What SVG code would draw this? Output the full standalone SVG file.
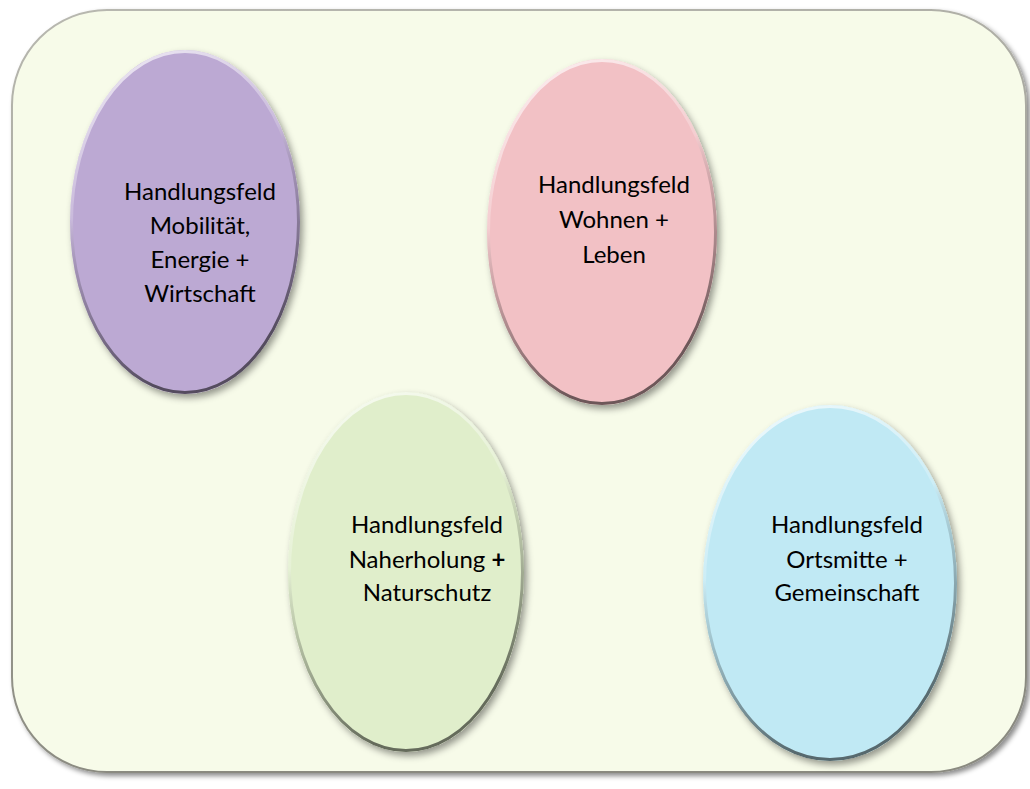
<svg xmlns="http://www.w3.org/2000/svg" width="1030" height="789" viewBox="0 0 1030 789">
  <defs>
    <filter id="shadow" x="-10%" y="-10%" width="125%" height="125%">
      <feDropShadow dx="3" dy="4" stdDeviation="3.5" flood-color="#000" flood-opacity="0.4"/>
    </filter>
    <filter id="bgshadow" x="-5%" y="-5%" width="110%" height="110%">
      <feDropShadow dx="3" dy="3" stdDeviation="2.5" flood-color="#000" flood-opacity="0.45"/>
    </filter>
    <linearGradient id="rim" x1="0" y1="0" x2="0.3" y2="1">
      <stop offset="0" stop-color="#ffffff" stop-opacity="0.8"/>
      <stop offset="0.45" stop-color="#ffffff" stop-opacity="0.2"/>
      <stop offset="0.6" stop-color="#000000" stop-opacity="0.15"/>
      <stop offset="1" stop-color="#000000" stop-opacity="0.55"/>
    </linearGradient>
    <linearGradient id="bgrim" x1="0" y1="0" x2="0.2" y2="1">
      <stop offset="0" stop-color="#b8b8b0"/>
      <stop offset="1" stop-color="#8a8a80"/>
    </linearGradient>
  </defs>
  <style>
    .lbl { font-family: Lato, "Open Sans", "Liberation Sans", sans-serif; font-size: 24px; fill: #000; text-anchor: middle; }
    .node ellipse.fill { filter: url(#shadow); }
    .node ellipse.rim { fill: none; stroke: url(#rim); stroke-width: 3; }
  </style>
  <rect x="12" y="10" width="1014" height="762" rx="95" ry="95" fill="#f7fbe9" stroke="url(#bgrim)" stroke-width="2" filter="url(#bgshadow)"/>

  <g id="node-mobilitaet" class="node">
    <ellipse class="fill" cx="185" cy="222" rx="115" ry="172" fill="#bca9d3"/>
    <ellipse class="rim" cx="185" cy="222" rx="113.5" ry="170.5"/>
    <text class="lbl" x="200" y="200">Handlungsfeld</text>
    <text class="lbl" x="200" y="234">Mobilität,</text>
    <text class="lbl" x="200" y="268">Energie +</text>
    <text class="lbl" x="200" y="302">Wirtschaft</text>
  </g>

  <g id="node-wohnen" class="node">
    <ellipse class="fill" cx="602" cy="232" rx="115" ry="173" fill="#f2c1c5"/>
    <ellipse class="rim" cx="602" cy="232" rx="113.5" ry="171.5"/>
    <text class="lbl" x="614" y="193">Handlungsfeld</text>
    <text class="lbl" x="614" y="228">Wohnen +</text>
    <text class="lbl" x="614" y="263">Leben</text>
  </g>

  <g id="node-naherholung" class="node">
    <ellipse class="fill" cx="406" cy="572" rx="118" ry="180" fill="#e0eecb"/>
    <ellipse class="rim" cx="406" cy="572" rx="116.5" ry="178.5"/>
    <text class="lbl" x="427" y="533">Handlungsfeld</text>
    <text class="lbl" x="427" y="568">Naherholung <tspan font-weight="bold">+</tspan></text>
    <text class="lbl" x="427" y="601">Naturschutz</text>
  </g>

  <g id="node-ortsmitte" class="node">
    <ellipse class="fill" cx="830" cy="583" rx="127" ry="178" fill="#c0e9f4"/>
    <ellipse class="rim" cx="830" cy="583" rx="125.5" ry="176.5"/>
    <text class="lbl" x="847" y="533">Handlungsfeld</text>
    <text class="lbl" x="847" y="568">Ortsmitte +</text>
    <text class="lbl" x="847" y="601">Gemeinschaft</text>
  </g>

  <g id="connectors"/>
</svg>
